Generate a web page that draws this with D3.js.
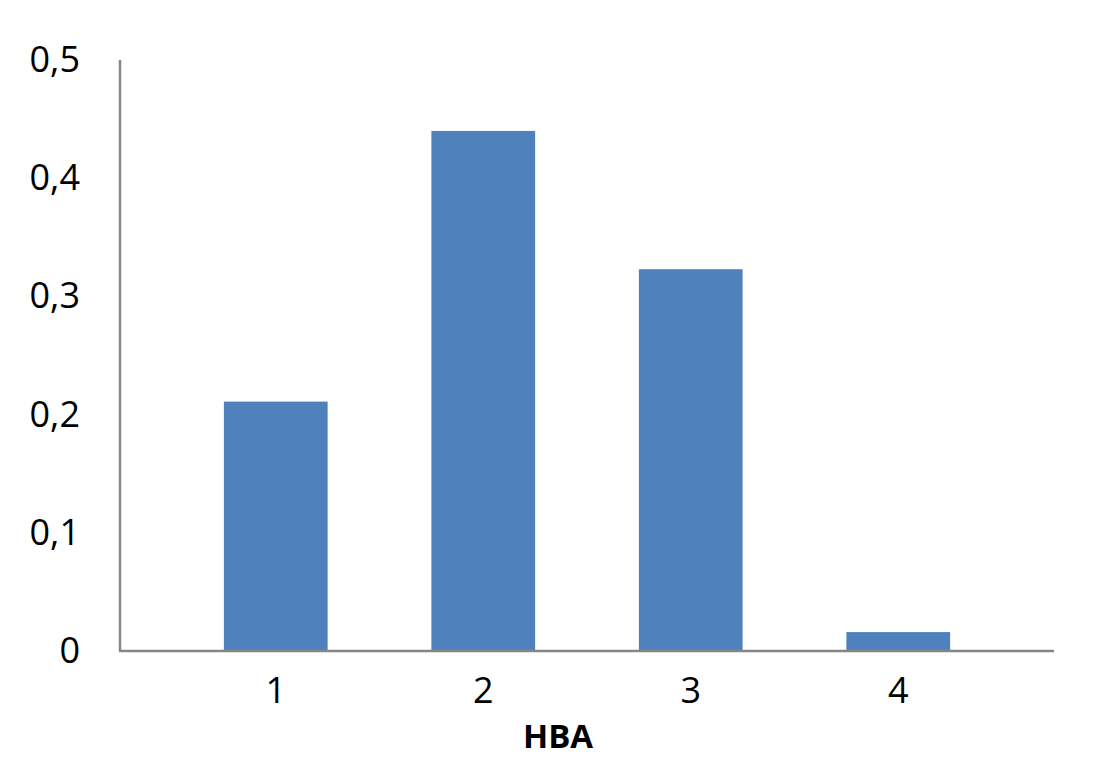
<!DOCTYPE html>
<html>
<head>
<meta charset="utf-8">
<script src="https://cdnjs.cloudflare.com/ajax/libs/d3/7.8.5/d3.min.js"></script>
<style>
  body { margin: 0; background: #fff; }
  text { font-family: "Open Sans", "Liberation Sans", sans-serif; fill: #000; }
</style>
</head>
<body>
<div class="chart"></div>
<script>
let FRAME_WIDTH = 1104;
let FRAME_HEIGHT = 779;

// chart data
const CATEGORIES = ["1", "2", "3", "4"];
const VALUES = [0.211, 0.44, 0.323, 0.016];
const Y_TICKS = [0, 0.1, 0.2, 0.3, 0.4, 0.5];
const X_TITLE = "HBA";

let FRAME = d3.select(".chart")
              .append("svg")
              .attr("width", FRAME_WIDTH)
              .attr("height", FRAME_HEIGHT);

// plot area
const AXIS_LEFT = 120;
const AXIS_RIGHT = 1054;
const Y_BOTTOM = 651;
const Y_TOP = 60;

const X_SCALE = d3.scaleBand()
                  .domain(CATEGORIES)
                  .range([172, 1002])
                  .paddingInner(0.5)
                  .paddingOuter(0.25);

const Y_SCALE = d3.scaleLinear()
                  .domain([0, 0.5])
                  .range([Y_BOTTOM, Y_TOP]);

// bars
FRAME.selectAll(".bar")
     .data(VALUES)
     .enter()
     .append("rect")
       .attr("class", "bar")
       .attr("x", (d, i) => X_SCALE(CATEGORIES[i]))
       .attr("y", (d) => Y_SCALE(d))
       .attr("width", X_SCALE.bandwidth())
       .attr("height", (d) => Y_BOTTOM - Y_SCALE(d))
       .attr("fill", "#4f81bd");

// y axis (labels only, no tick marks)
let yAxis = FRAME.append("g")
     .attr("transform", "translate(" + AXIS_LEFT + ",0)")
     .call(d3.axisLeft(Y_SCALE)
             .tickValues(Y_TICKS)
             .tickSize(0)
             .tickPadding(40)
             .tickFormat((d) => d === 0 ? "0" : d3.format(".1f")(d).replace(".", ",")));
yAxis.select(".domain").remove();
yAxis.selectAll("text")
     .attr("font-size", "36px")
     .attr("font-family", "Open Sans, Liberation Sans, sans-serif")
     .attr("fill", "#000");

// x axis labels
let xAxis = FRAME.append("g")
     .attr("transform", "translate(0," + Y_BOTTOM + ")")
     .call(d3.axisBottom(X_SCALE).tickSize(0).tickPadding(26));
xAxis.select(".domain").remove();
xAxis.selectAll("text")
     .attr("font-size", "36px")
     .attr("font-family", "Open Sans, Liberation Sans, sans-serif")
     .attr("fill", "#000");

// axis lines
FRAME.append("line")
     .attr("x1", AXIS_LEFT).attr("x2", AXIS_LEFT)
     .attr("y1", Y_TOP).attr("y2", Y_BOTTOM)
     .attr("stroke", "#868686")
     .attr("stroke-width", 2.5);

FRAME.append("line")
     .attr("x1", AXIS_LEFT - 1).attr("x2", AXIS_RIGHT)
     .attr("y1", Y_BOTTOM).attr("y2", Y_BOTTOM)
     .attr("stroke", "#868686")
     .attr("stroke-width", 2.5);

// x axis title
FRAME.append("text")
     .attr("x", 558)
     .attr("y", 748)
     .attr("text-anchor", "middle")
     .style("font-size", "33px")
     .style("font-weight", "bold")
     .text(X_TITLE);
</script>
</body>
</html>
